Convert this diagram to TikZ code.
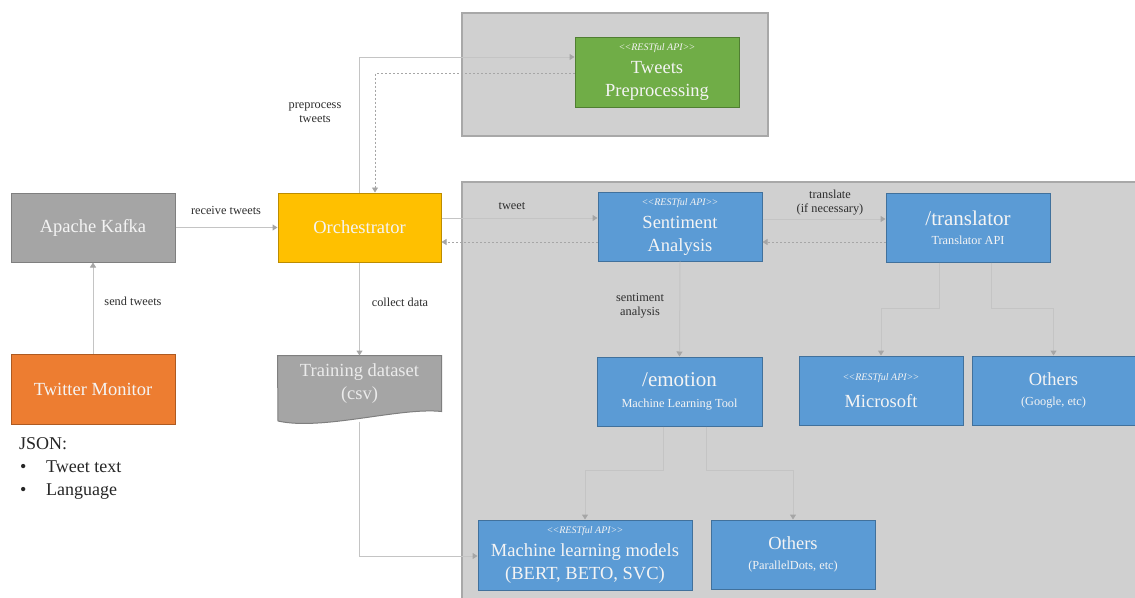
\documentclass[tikz,border=0pt]{standalone}
\usepackage{fontspec}
\setmainfont{Liberation Serif}
\usetikzlibrary{arrows.meta,backgrounds}

\definecolor{panelF}{HTML}{D0D0D0}
\definecolor{panelD}{HTML}{A8A8A8}
\definecolor{blueF}{HTML}{5B9BD5}
\definecolor{blueD}{HTML}{41719C}
\definecolor{greenF}{HTML}{70AD47}
\definecolor{greenD}{HTML}{507E32}
\definecolor{orangeF}{HTML}{ED7D31}
\definecolor{orangeD}{HTML}{AE5A21}
\definecolor{yellowF}{HTML}{FFC000}
\definecolor{yellowD}{HTML}{BC8C00}
\definecolor{grayF}{HTML}{A5A5A5}
\definecolor{grayD}{HTML}{7F7F7F}
\definecolor{lineC}{HTML}{C4C4C4}
\definecolor{dashC}{HTML}{A6A6A6}
\definecolor{tipC}{HTML}{A6A6A6}
\definecolor{boxtext}{HTML}{F4F4F4}
\definecolor{lblC}{HTML}{2E2E2E}

% small italic stereotype line
\newcommand\apitag{{\fontsize{10}{11}\selectfont\itshape <\kern-0.8pt<RESTful API>\kern-0.8pt>}}
\newcommand\subline[1]{{\fontsize{12.3}{14}\selectfont #1}}
\newcommand\bigline[1]{{\fontsize{21}{24}\selectfont #1}}

\tikzset{
  panel/.style={fill=panelF, draw=panelD, line width=1.2pt},
  box/.style={draw, line width=1pt, inner sep=0pt, align=center, text=boxtext,
    minimum width=164pt, minimum height=69pt,
    font=\fontsize{18.5}{23}\selectfont},
  bluebox/.style={box, fill=blueF, draw=blueD},
  conn/.style={draw=lineC, line width=1pt, -{Triangle[width=6pt,length=5pt,color=tipC]}},
  ret/.style={draw=dashC, line width=0.8pt, dash pattern=on 2pt off 2pt,
    -{Triangle[width=6pt,length=5pt,color=tipC]}},
  lbl/.style={text=lblC, align=center, font=\fontsize{12.3}{14}\selectfont}
}

\begin{document}
\begin{tikzpicture}[x=1pt, y=-1pt]
\useasboundingbox (0,0) rectangle (1135,597);
\begin{pgfonlayer}{background}
  \fill[white] (0,0) rectangle (1135,597);
\end{pgfonlayer}

% service panels
\draw[panel] (462,13) rectangle (768,136);
\draw[panel] (462,182) rectangle (1142,604);

% components
\node[box, fill=greenF, draw=greenD, minimum height=70pt] (prep) at (657,72)
  {\apitag\\[0pt]Tweets\\Preprocessing};
\node[box, fill=grayF, draw=grayD] (kafka) at (93,227.5) {Apache Kafka};
\node[box, fill=yellowF, draw=yellowD, minimum width=163pt] (orch) at (359.5,227.5) {Orchestrator};
\node[box, fill=orangeF, draw=orangeD, minimum height=70pt] (twit) at (93,389) {Twitter Monitor};
\node[box, minimum width=163pt, minimum height=56pt, draw=none, text=boxtext!92!gray] (data) at (359.5,384)
  {Training dataset\\(csv)};
\node[bluebox] (sent) at (680,226.5) {\apitag\\[0pt]Sentiment\\Analysis};
\node[bluebox] (trans) at (968,227.5) {\bigline{/translator}\\[-4pt]\subline{Translator API}};
\node[bluebox, minimum width=165pt] (emo) at (679.5,391.5) {\bigline{/emotion}\\[-2pt]\subline{Machine Learning Tool}};
\node[bluebox] (ms) at (881,390.5) {\apitag\\[4pt]Microsoft};
\node[bluebox, minimum width=163pt] (oth1) at (1053.5,390.5) {Others\\[-3pt]\subline{(Google, etc)}};
\node[bluebox, minimum width=214pt, minimum height=70pt] (ml) at (585,555)
  {\apitag\\[0pt]Machine learning models\\(BERT, BETO, SVC)};
\node[bluebox] (oth2) at (793,554.5) {Others\\[-3pt]\subline{(ParallelDots, etc)}};

% document shape of the dataset
\begin{pgfonlayer}{background}
  \draw[fill=grayF, draw=grayD, line width=1pt]
    (data.north west) -- (data.north east) -- ([yshift=1pt]data.south east)
    .. controls (400,407) and (322,431) .. (278,421) -- cycle;
\end{pgfonlayer}

% payload note
\node[anchor=north west, align=left, inner sep=0pt, text=black!85,
      font=\fontsize{18}{23}\selectfont] (json) at (19,437)
  {JSON:\\
   \makebox[27pt][l]{\hspace{1pt}\textbullet}Tweet text\\
   \makebox[27pt][l]{\hspace{1pt}\textbullet}Language};

% connectors
\draw[conn] (twit.north) -- (kafka.south);
\draw[conn] (kafka.east) -- (orch.west);
\draw[conn] (orch.north) |- ([yshift=15pt]prep.west);
\draw[ret] ([yshift=-1pt]prep.west) -| ([xshift=15.5pt]orch.north);
\draw[conn] ([yshift=9.5pt]orch.east) -- ([yshift=8.5pt]sent.west);
\draw[ret] ([yshift=-15.5pt]sent.west) -- ([yshift=-14.5pt]orch.east);
\draw[conn] ([yshift=7.5pt]sent.east) -- ([yshift=8.5pt]trans.west);
\draw[ret] ([yshift=-14.5pt]trans.west) -- ([yshift=-15.5pt]sent.east);
\draw[conn] (sent.south) -- (emo.north);
\draw[conn] ([xshift=-29pt]trans.south) -- ++(0,46) -| (ms.north);
\draw[conn] ([xshift=23pt]trans.south) -- ++(0,46) -| (oth1.north);
\draw[conn] ([xshift=-16.5pt]emo.south) -- ++(0,44) -| (ml.north);
\draw[conn] ([xshift=26.5pt]emo.south) -- ++(0,44) -| (oth2.north);
\draw[conn] (orch.south) -- (data.north);
\draw[conn] ([yshift=-9pt]data.south) |- ([yshift=-1pt]ml.west);

% connector labels
\node[lbl] (l1) at (133,301) {send tweets};
\node[lbl] (l2) at (226,210) {receive tweets};
\node[lbl] (l3) at (315,113) {preprocess\\tweets};
\node[lbl] (l4) at (512,206) {tweet};
\node[lbl] (l5) at (830,203) {translate\\(if necessary)};
\node[lbl] (l6) at (640,306) {sentiment\\analysis};
\node[lbl] (l7) at (400,302) {collect data};
\end{tikzpicture}
\end{document}
